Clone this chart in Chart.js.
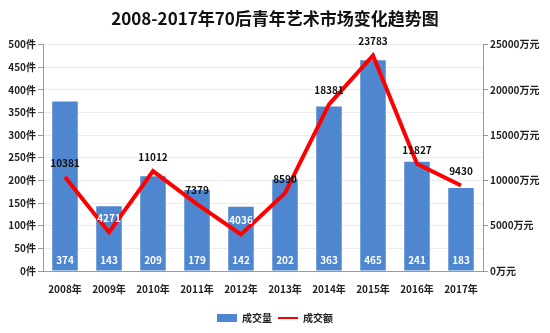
<!DOCTYPE html>
<html lang="zh">
<head>
    <meta charset="UTF-8">
    <title>2008-2017年70后青年艺术市场变化趋势图</title>
    <style>
        html, body { margin: 0; padding: 0; background: #fff; }
        .chart-container { width: 550px; height: 333px; }
    </style>
</head>
<body>
    <div class="chart-container">
        <canvas id="mixChart" width="550" height="333"></canvas>
    </div>

    <script src="https://cdn.jsdelivr.net/npm/chart.js"></script>
    <script>
        // data
        const years = ['2008年', '2009年', '2010年', '2011年', '2012年', '2013年', '2014年', '2015年', '2016年', '2017年'];
        const volume = [374, 143, 209, 179, 142, 202, 363, 465, 241, 183];        // 成交量 (件)
        const turnover = [10381, 4271, 11012, 7379, 4036, 8590, 18381, 23783, 11827, 9430]; // 成交额 (万元)
        const whiteLabels = [1, 4]; // line labels that sit on a bar

        const fontFamily = '"Noto Sans CJK SC", "Noto Sans", sans-serif';

        // draw the value labels from the element positions
        const valueLabels = {
            id: 'valueLabels',
            afterDatasetsDraw(chart) {
                const ctx = chart.ctx;
                const base = chart.scales.y.getPixelForValue(0);
                ctx.save();
                ctx.font = 'bold 10px ' + fontFamily;
                ctx.textAlign = 'center';
                ctx.textBaseline = 'middle';
                chart.getDatasetMeta(0).data.forEach((bar, i) => {
                    ctx.fillStyle = '#ffffff';
                    ctx.fillText(volume[i], bar.x, base - 11);
                });
                chart.getDatasetMeta(1).data.forEach((pt, i) => {
                    ctx.fillStyle = whiteLabels.includes(i) ? '#ffffff' : '#111111';
                    ctx.fillText(turnover[i], pt.x, pt.y - 14);
                });
                ctx.restore();
            }
        };

        const ctx = document.getElementById('mixChart').getContext('2d');
        const mixChart = new Chart(ctx, {
            type: 'bar',
            data: {
                labels: years,
                datasets: [
                    {
                        type: 'bar',
                        label: '成交量',
                        data: volume,
                        backgroundColor: '#4f86d0',
                        yAxisID: 'y',
                        barPercentage: 0.58,
                        categoryPercentage: 1.0,
                        order: 2
                    },
                    {
                        type: 'line',
                        label: '成交额',
                        data: turnover,
                        borderColor: '#ff0000',
                        backgroundColor: '#ff0000',
                        borderWidth: 4,
                        pointRadius: 0,
                        tension: 0,
                        yAxisID: 'y1',
                        order: 1
                    }
                ]
            },
            options: {
                responsive: false,
                animation: false,
                layout: { padding: { top: 6, bottom: 0, left: 0, right: 0 } },
                plugins: {
                    title: {
                        display: true,
                        text: '2008-2017年70后青年艺术市场变化趋势图',
                        color: '#111',
                        font: { family: fontFamily, size: 17, weight: 'bold' },
                        padding: { top: 2, bottom: 16 }
                    },
                    legend: {
                        position: 'bottom',
                        labels: {
                            color: '#222',
                            font: { family: fontFamily, size: 10, weight: 'bold' },
                            usePointStyle: true,
                            pointStyleWidth: 20,
                            boxHeight: 8,
                            padding: 6,
                            generateLabels(chart) {
                                const items = Chart.defaults.plugins.legend.labels.generateLabels(chart);
                                items.sort((a, b) => a.datasetIndex - b.datasetIndex);
                                items.forEach(item => {
                                    if (item.datasetIndex === 0) {
                                        item.pointStyle = 'rect';
                                        item.lineWidth = 0;
                                    } else {
                                        item.pointStyle = 'line';
                                        item.lineWidth = 2;
                                    }
                                });
                                return items;
                            }
                        }
                    },
                    tooltip: { enabled: false }
                },
                scales: {
                    x: {
                        grid: { display: false, drawTicks: false },
                        border: { color: '#999' },
                        ticks: {
                            color: '#222',
                            padding: 12,
                            font: { family: fontFamily, size: 10, weight: 'bold' }
                        }
                    },
                    y: {
                        position: 'left',
                        min: 0,
                        max: 500,
                        afterFit(scale) { scale.width = 43; },
                        grid: { color: '#ececec', tickColor: '#999', tickLength: 5 },
                        border: { color: '#999' },
                        ticks: {
                            stepSize: 50,
                            color: '#222',
                            padding: 2,
                            font: { family: fontFamily, size: 10, weight: 'bold' },
                            callback: v => v + '件'
                        }
                    },
                    y1: {
                        position: 'right',
                        min: 0,
                        max: 25000,
                        afterFit(scale) { scale.width = 67; },
                        grid: { drawOnChartArea: false, tickColor: '#999', tickLength: 5 },
                        border: { color: '#999' },
                        ticks: {
                            stepSize: 5000,
                            color: '#222',
                            padding: 2,
                            font: { family: fontFamily, size: 10, weight: 'bold' },
                            callback: v => v + '万元'
                        }
                    }
                }
            },
            plugins: [valueLabels]
        });
    </script>
</body>
</html>
